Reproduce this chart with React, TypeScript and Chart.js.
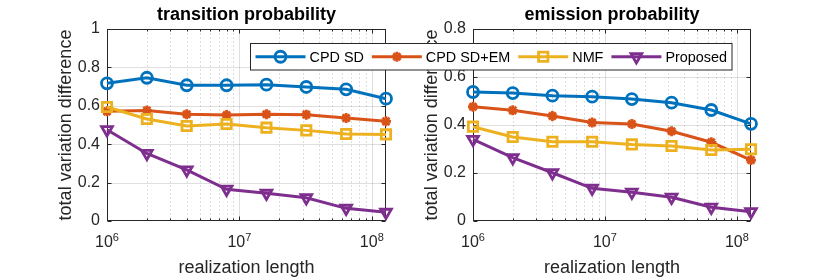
import React, { useEffect, useRef } from 'react';
import { Chart, registerables } from 'chart.js';

Chart.register(...registerables);

// ---------------- data ----------------
const realizationLengths = [1e6, 2e6, 4e6, 8e6, 1.6e7, 3.2e7, 6.4e7, 1.28e8];
const seriesNames = ['CPD SD', 'CPD SD+EM', 'NMF', 'Proposed'];

const transCpdSd = [0.717, 0.746, 0.707, 0.707, 0.71, 0.698, 0.686, 0.637];
const transCpdSdEm = [0.571, 0.576, 0.556, 0.552, 0.556, 0.554, 0.536, 0.519];
const transNmf = [0.594, 0.531, 0.495, 0.505, 0.486, 0.472, 0.453, 0.451];
const transProposed = [0.475, 0.352, 0.266, 0.165, 0.144, 0.121, 0.066, 0.045];

const emisCpdSd = [0.5375, 0.533, 0.522, 0.518, 0.508, 0.493, 0.4625, 0.405];
const emisCpdSdEm = [0.476, 0.461, 0.4375, 0.41, 0.404, 0.374, 0.328, 0.254];
const emisNmf = [0.393, 0.35, 0.33, 0.33, 0.319, 0.3125, 0.296, 0.299];
const emisProposed = [0.34, 0.264, 0.201, 0.136, 0.12, 0.099, 0.057, 0.039];

const xTickExponents = [6, 7, 8];
const yTicksTrans = [0, 0.2, 0.4, 0.6, 0.8, 1];
const yTicksEmis = [0, 0.2, 0.4, 0.6, 0.8];

const titleTrans = 'transition probability';
const titleEmis = 'emission probability';
const yAxisLabel = 'total variation difference';
const xAxisLabel = 'realization length';

// ---------------- style ----------------
const FONT = '"Liberation Sans", Arial, Helvetica, sans-serif';
const COLORS = ['#0072BD', '#D95319', '#EDB120', '#7E2F8E'];
const MARKERS = [
  { style: 'circle', radius: 5.5, rotation: 0 },
  { style: 'star', radius: 5, rotation: 0 },
  { style: 'rect', radius: 6.6, rotation: 0 },
  { style: 'triangle', radius: 6.2, rotation: 180 },
];
const AXIS_COLOR = '#262626';
const LINE_W = 3;
const MARKER_W = 2.8;

function drawMarker(ctx: CanvasRenderingContext2D, style: string, x: number, y: number, r: number, rotDeg: number) {
  const rad = (rotDeg * Math.PI) / 180;
  ctx.beginPath();
  if (style === 'circle') {
    ctx.arc(x, y, r, 0, Math.PI * 2);
    ctx.closePath();
  } else if (style === 'rect') {
    const s = r * Math.SQRT1_2;
    ctx.rect(x - s, y - s, 2 * s, 2 * s);
  } else if (style === 'triangle') {
    let a = rad;
    ctx.moveTo(x + Math.sin(a) * r, y - Math.cos(a) * r);
    a += (2 * Math.PI) / 3;
    ctx.lineTo(x + Math.sin(a) * r, y - Math.cos(a) * r);
    a += (2 * Math.PI) / 3;
    ctx.lineTo(x + Math.sin(a) * r, y - Math.cos(a) * r);
    ctx.closePath();
  } else if (style === 'star') {
    for (let i = 0; i < 4; i++) {
      const a = rad + (i * Math.PI) / 4;
      ctx.moveTo(x - Math.cos(a) * r, y - Math.sin(a) * r);
      ctx.lineTo(x + Math.cos(a) * r, y + Math.sin(a) * r);
    }
  }
  ctx.stroke();
}

const matlabPlugin = {
  id: 'matlab',
  beforeDatasetsDraw(chart: any, _args: any, opts: any) {
    const { ctx, chartArea: a } = chart;
    const x = chart.scales.x;
    const y = chart.scales.y;
    const L = Math.round(a.left) + 0.5;
    const R = Math.round(a.right) - 0.5;
    const T = Math.round(a.top) + 0.5;
    const B = Math.round(a.bottom) - 0.5;
    ctx.save();
    ctx.lineWidth = 1;
    // minor vertical dotted grid
    ctx.strokeStyle = 'rgba(38,38,38,0.3)';
    ctx.setLineDash([1, 3]);
    const minors: number[] = [];
    for (let e = 5; e <= 9; e++) {
      for (let k = 2; k <= 9; k++) {
        const v = k * Math.pow(10, e);
        if (v > x.min && v < x.max) minors.push(v);
      }
    }
    for (const v of minors) {
      const px = Math.round(x.getPixelForValue(v)) + 0.5;
      ctx.beginPath();
      ctx.moveTo(px, T);
      ctx.lineTo(px, B);
      ctx.stroke();
    }
    ctx.setLineDash([]);
    // major grid
    ctx.strokeStyle = 'rgba(38,38,38,0.15)';
    const majors = xTickExponents.map((e) => Math.pow(10, e));
    for (const v of majors) {
      if (v <= x.min || v >= x.max) continue;
      const px = Math.round(x.getPixelForValue(v)) + 0.5;
      ctx.beginPath();
      ctx.moveTo(px, T);
      ctx.lineTo(px, B);
      ctx.stroke();
    }
    const yTicks: number[] = opts.yTicks;
    for (const v of yTicks) {
      if (v <= y.min || v >= y.max) continue;
      const py = Math.round(y.getPixelForValue(v)) + 0.5;
      ctx.beginPath();
      ctx.moveTo(L, py);
      ctx.lineTo(R, py);
      ctx.stroke();
    }
    // box
    ctx.strokeStyle = AXIS_COLOR;
    ctx.strokeRect(L, T, R - L, B - T);
    // ticks (inward)
    ctx.beginPath();
    for (const v of yTicks) {
      const py = Math.round(y.getPixelForValue(v)) + 0.5;
      ctx.moveTo(L, py);
      ctx.lineTo(L + 4, py);
      ctx.moveTo(R, py);
      ctx.lineTo(R - 4, py);
    }
    for (const v of majors) {
      if (v < x.min || v > x.max) continue;
      const px = Math.round(x.getPixelForValue(v)) + 0.5;
      ctx.moveTo(px, B);
      ctx.lineTo(px, B - 4);
      ctx.moveTo(px, T);
      ctx.lineTo(px, T + 4);
    }
    for (const v of minors) {
      const px = Math.round(x.getPixelForValue(v)) + 0.5;
      ctx.moveTo(px, B);
      ctx.lineTo(px, B - 2);
      ctx.moveTo(px, T);
      ctx.lineTo(px, T + 2);
    }
    ctx.stroke();
    ctx.restore();
  },
  afterDraw(chart: any, _args: any, opts: any) {
    const { ctx, chartArea: a } = chart;
    const x = chart.scales.x;
    const cx = (a.left + a.right) / 2;
    const cy = (a.top + a.bottom) / 2;
    ctx.save();
    // x tick labels 10^e
    ctx.fillStyle = AXIS_COLOR;
    ctx.textBaseline = 'alphabetic';
    ctx.textAlign = 'left';
    for (const e of xTickExponents) {
      const v = Math.pow(10, e);
      if (v < x.min || v > x.max) continue;
      const px = x.getPixelForValue(v);
      ctx.font = `16px ${FONT}`;
      const wb = ctx.measureText('10').width;
      ctx.font = `11px ${FONT}`;
      const we = ctx.measureText(String(e)).width;
      const start = px - (wb + we) / 2;
      ctx.font = `16px ${FONT}`;
      ctx.fillText('10', start, a.bottom + 25.5);
      ctx.font = `11px ${FONT}`;
      ctx.fillText(String(e), start + wb, a.bottom + 20);
    }
    // x axis label
    ctx.font = `18px ${FONT}`;
    ctx.textAlign = 'center';
    ctx.fillText(xAxisLabel, cx, a.bottom + 51.5);
    // y axis label
    ctx.save();
    ctx.translate(a.left - 36.5, cy);
    ctx.rotate(-Math.PI / 2);
    ctx.fillText(yAxisLabel, 0, 0);
    ctx.restore();
    // title
    ctx.fillStyle = '#000';
    ctx.font = `bold 18px ${FONT}`;
    ctx.fillText(opts.title, cx, a.top - 9);

    // legend
    if (opts.legend) {
      const boxL = opts.legendLeft;
      const boxT = 43.5;
      const boxH = 26.5;
      ctx.font = `14.4px ${FONT}`;
      const widths = seriesNames.map((n) => ctx.measureText(n).width);
      let total = 5;
      widths.forEach((w, i) => {
        total += 50 + 4 + w + (i < widths.length - 1 ? 8 : 5);
      });
      ctx.fillStyle = '#fff';
      ctx.fillRect(boxL, boxT, total, boxH);
      ctx.strokeStyle = AXIS_COLOR;
      ctx.lineWidth = 1;
      ctx.strokeRect(boxL, boxT, total, boxH);
      const my = boxT + boxH / 2;
      let xx = boxL + 5;
      seriesNames.forEach((n, i) => {
        ctx.strokeStyle = COLORS[i];
        ctx.lineWidth = LINE_W;
        ctx.beginPath();
        ctx.moveTo(xx, my);
        ctx.lineTo(xx + 50, my);
        ctx.stroke();
        ctx.lineWidth = MARKER_W;
        const m = MARKERS[i];
        drawMarker(ctx, m.style, xx + 25, my, m.radius, m.rotation);
        ctx.fillStyle = '#000';
        ctx.textAlign = 'left';
        ctx.textBaseline = 'middle';
        ctx.fillText(n, xx + 54, my + 1);
        xx += 54 + widths[i] + 8;
      });
    }
    ctx.restore();
  },
};

function makeDatasets(values: number[][]) {
  return values.map((vals, i) => ({
    label: seriesNames[i],
    data: realizationLengths.map((l, j) => ({ x: l, y: vals[j] })),
    borderColor: COLORS[i],
    backgroundColor: COLORS[i],
    borderWidth: LINE_W,
    pointStyle: MARKERS[i].style,
    pointRadius: MARKERS[i].radius,
    pointRotation: MARKERS[i].rotation,
    pointBorderWidth: MARKER_W,
    pointBorderColor: COLORS[i],
    pointBackgroundColor: 'rgba(255,255,255,0)',
    clip: false as any,
    order: 4 - i,
    tension: 0,
  }));
}

function buildConfig(
  values: number[][],
  yTicks: number[],
  yMax: number,
  title: string,
  padLeft: number,
  padRight: number,
  legend: boolean,
  legendLeft: number
): any {
  return {
    type: 'line',
    data: { datasets: makeDatasets(values) },
    plugins: [matlabPlugin],
    options: {
      responsive: false,
      animation: false,
      devicePixelRatio: 1,
      layout: { padding: { left: padLeft, right: padRight, top: 29, bottom: 0 } },
      plugins: {
        legend: { display: false },
        tooltip: { enabled: false },
        title: { display: false },
        matlab: { title, legend, legendLeft, yTicks },
      },
      scales: {
        x: {
          type: 'logarithmic',
          min: realizationLengths[0],
          max: realizationLengths[realizationLengths.length - 1],
          grid: { display: false, drawTicks: false },
          border: { display: false },
          ticks: { display: false },
          afterFit: (s: any) => {
            s.height = 57;
          },
        },
        y: {
          type: 'linear',
          min: 0,
          max: yMax,
          grid: { display: false, drawTicks: false },
          border: { display: false },
          afterBuildTicks: (s: any) => {
            s.ticks = yTicks.map((v) => ({ value: v }));
          },
          ticks: {
            padding: 7,
            color: AXIS_COLOR,
            font: { family: FONT, size: 16 },
            callback: (v: any) => Number(Number(v).toFixed(1)).toString(),
          },
          afterFit: (s: any) => {
            s.width = 70;
          },
        },
      },
    },
  };
}

function ChartCanvas(props: { config: any; width: number; height: number; left: number; z: number }) {
  const ref = useRef<HTMLCanvasElement | null>(null);
  useEffect(() => {
    if (!ref.current) return;
    const chart = new Chart(ref.current, props.config);
    return () => chart.destroy();
  }, []);
  return (
    <canvas
      ref={ref}
      width={props.width}
      height={props.height}
      style={{ position: 'absolute', left: props.left, top: 0, width: props.width, height: props.height, zIndex: props.z }}
    />
  );
}

export default function App() {
  const leftCfg = buildConfig(
    [transCpdSd, transCpdSdEm, transNmf, transProposed],
    yTicksTrans,
    1,
    titleTrans,
    37,
    29,
    false,
    0
  );
  const rightCfg = buildConfig(
    [emisCpdSd, emisCpdSdEm, emisNmf, emisProposed],
    yTicksEmis,
    0.8,
    titleEmis,
    163,
    79,
    true,
    10.5
  );
  return (
    <div style={{ position: 'fixed', left: 0, top: 0, width: 830, height: 278, background: '#fff', overflow: 'hidden' }}>
      <ChartCanvas config={leftCfg} width={415} height={278} left={0} z={1} />
      <ChartCanvas config={rightCfg} width={590} height={278} left={240} z={2} />
    </div>
  );
}
